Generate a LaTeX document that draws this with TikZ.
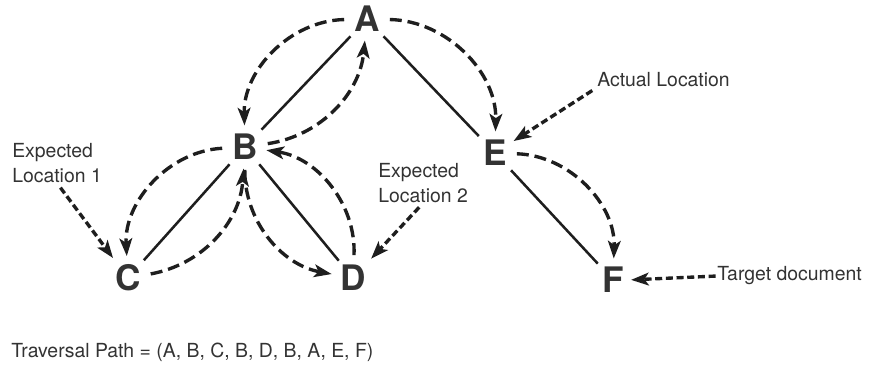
\documentclass[tikz,border=0pt]{standalone}
\usepackage{fontspec}
\setmainfont{TeX Gyre Heros}
\usepackage{tikz}
\usetikzlibrary{arrows.meta}
\usetikzlibrary{positioning}
\definecolor{inkgray}{HTML}{333333}
\definecolor{linegray}{HTML}{1E1E1E}
\begin{document}
\begin{tikzpicture}[x=0.025cm,y=-0.025cm,>={Stealth[length=12.5pt,width=9pt,inset=3pt]},
    doc/.style={text=inkgray,font=\fontsize{25}{26}\selectfont\bfseries,inner sep=3pt},
    note/.style={text=inkgray,font=\fontsize{13.8}{18}\selectfont,align=left,anchor=west,inner sep=0pt},
    link/.style={color=linegray,line width=1.8pt},
    hop/.style={color=linegray,line width=2.4pt,dash pattern=on 8.5pt off 4.2pt,shorten >=3pt,shorten <=4pt},
    pointer/.style={color=linegray,line width=2.4pt,dash pattern=on 5pt off 2.6pt,shorten <=4pt,shorten >=2pt}]
      \useasboundingbox (0,0) rectangle (892,367);

      \node[doc] (A) at (367,19) {A};
      \node[doc] (B) at (245,147) {B};
      \node[doc] (C) at (128,278) {C};
      \node[doc] (D) at (353,278) {D};
      \node[doc] (E) at (495,153) {E};
      \node[doc] (F) at (613,280) {F};

      \node[note] (loc1) at (12,163) {Expected\\Location 1};
      \node[note] (loc2) at (378,183) {Expected\\Location 2};
      \node[note] (actual) at (597,80) {Actual Location};
      \node[note] (target) at (717,276) {Target document};
      \node[note] (path) at (11,352) {Traversal Path = (A, B, C, B, D, B, A, E, F)};

      % tree links
      \path[link]
          (A) edge (B)
          (A) edge (E)
          (B) edge (C)
          (B) edge (D)
          (E) edge (F)
      ;

      % traversal
      \path[hop]
          (A) edge [->, bend right=45] (B)
          (B) edge [->, bend right=38] (A)
          (B) edge [->, bend right=45] (C)
          (C) edge [->, bend right=38] (B)
          (B) edge [->, bend right=40] (D)
          (D) edge [->, bend right=42] (B)
          (A) edge [->, bend left=45] (E)
          (E) edge [->, bend left=45] (F)
      ;

      % annotations
      \path[pointer]
          (loc1.south) edge [->] (C)
          (loc2.south) edge [->] (D)
          (actual.south west) edge [->] (E)
          (target.west) edge [->, shorten <=1pt] (F.east)
      ;
  \end{tikzpicture}
\end{document}
